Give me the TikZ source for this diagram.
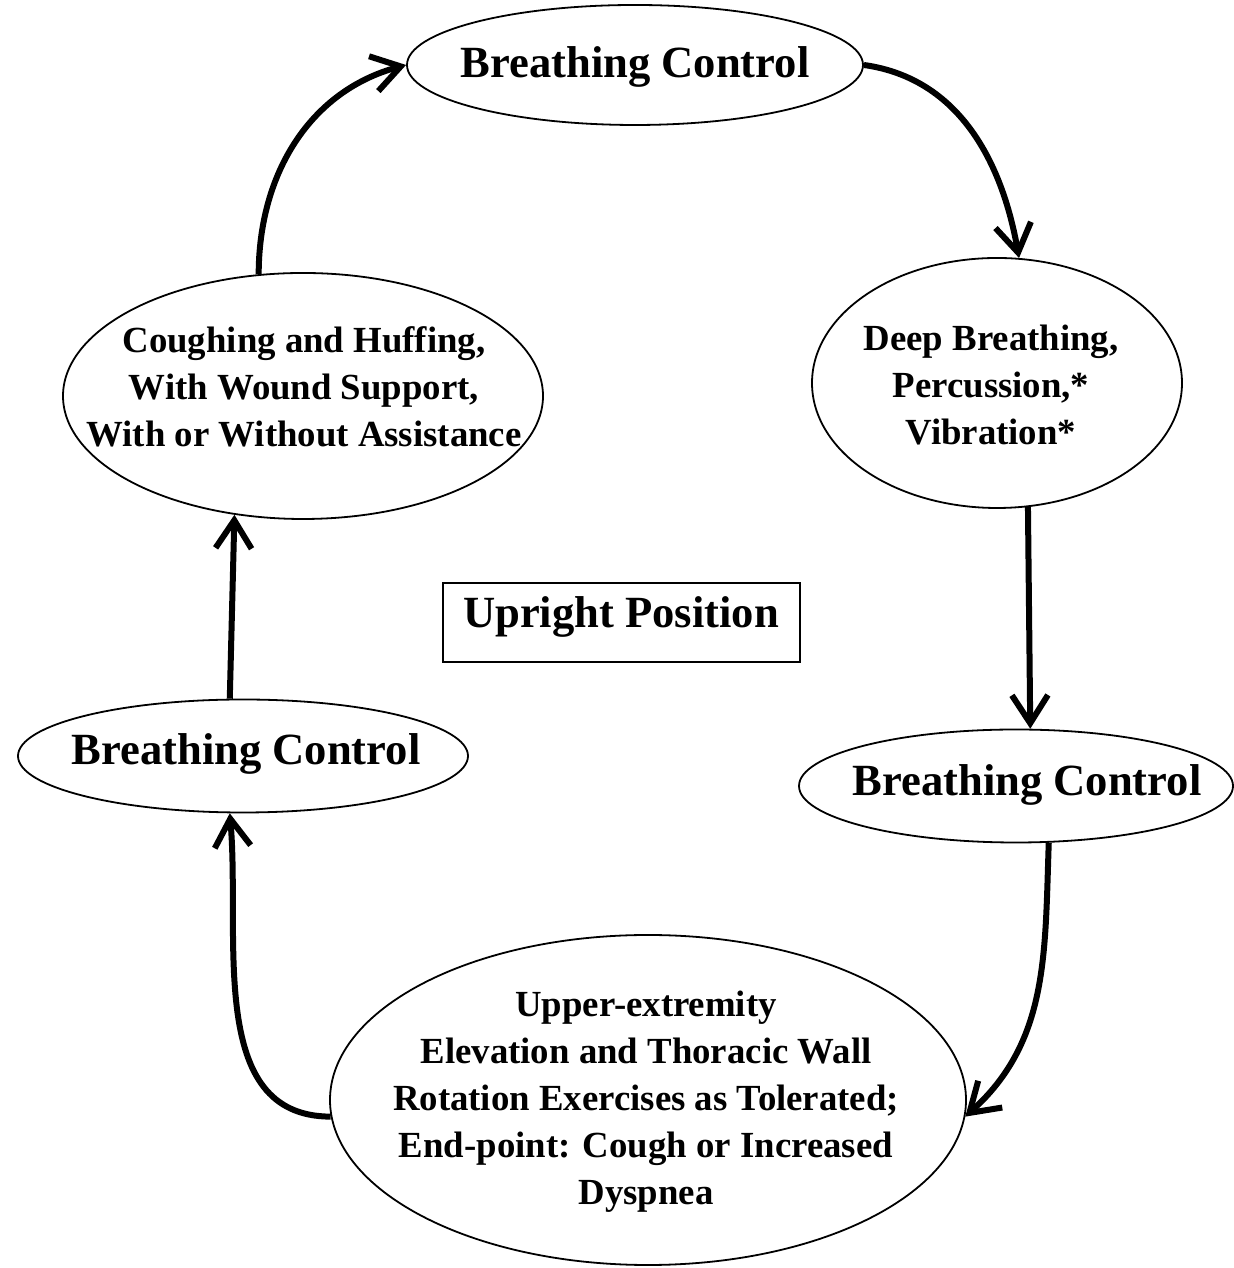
\documentclass[tikz,border=0pt]{standalone}
\usepackage{fontspec}
\setmainfont{Liberation Serif}
\usetikzlibrary{shapes.geometric,arrows.meta}
\begin{document}
\begin{tikzpicture}[x=0.5pt,y=0.5pt,
  oval/.style={draw, ellipse, line width=0.9pt, inner sep=0pt},
  bigtxt/.style={font=\bfseries\fontsize{22.3pt}{27pt}\selectfont},
  smalltxt/.style={align=center, font=\bfseries\fontsize{18.4pt}{23.5pt}\selectfont},
  flow/.style={line width=3pt, -{Straight Barb[length=14pt,width=18pt]}}]
\useasboundingbox (0,0) rectangle (1234,1268);

% ovals of the cycle
\node[oval, minimum width=228pt, minimum height=60pt] (top) at (635,1203) {};
\node[oval, minimum width=185pt, minimum height=125pt] (ru) at (997,885) {};
\node[oval, minimum width=240pt, minimum height=123pt] (lu) at (303,872) {};
\node[oval, minimum width=225pt, minimum height=56.5pt] (lb) at (243,512) {};
\node[oval, minimum width=217pt, minimum height=56.5pt] (rb) at (1016,482) {};
\node[oval, minimum width=318pt, minimum height=165pt] (bt) at (648,168) {};

% labels
\node[bigtxt] (toptxt) at (635,1201) {Breathing Control};
\node[smalltxt] (rutxt) at (991,883) {Deep Breathing,\\Percussion,*\\Vibration*};
\node[smalltxt] (lutxt) at (304,881) {Coughing and Huffing,\\With Wound Support,\\With or Without Assistance};
\node[bigtxt] (lbtxt) at (246,514) {Breathing Control};
\node[bigtxt] (rbtxt) at (1027,483) {Breathing Control};
\node[smalltxt] (bttxt) at (646,166) {Upper-extremity\\Elevation and Thoracic Wall\\Rotation Exercises as Tolerated;\\End-point: Cough or Increased\\Dyspnea};

% centre box
\node[draw, line width=0.9pt, minimum width=178.5pt, minimum height=39.5pt, inner sep=0pt] (box) at (621.5,645.5) {};
\node[bigtxt] (boxtxt) at (621,651) {Upright Position};

% connectors
\draw[flow] (lu.110) to[out=90, in=195] (top.180);
\draw[flow] (top.0) to[out=-8, in=100] (ru.80);
\draw[flow] (ru.-76) -- (rb.76);
\draw[flow] (rb.-60) to[out=-92, in=42] (bt.-3);
\draw[flow] (bt.183) to[out=180, in=-85] (lb.-103);
\draw[flow] (lb.103) -- (lu.-120);
\end{tikzpicture}
\end{document}
